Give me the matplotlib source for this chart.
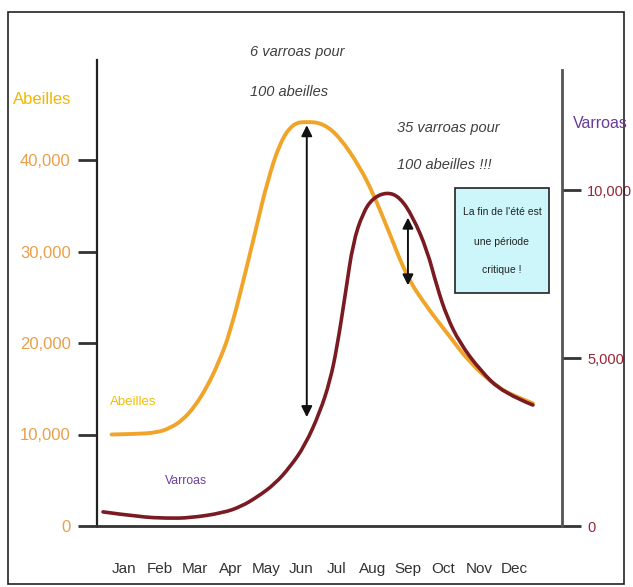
import matplotlib
matplotlib.use("Agg")
import matplotlib.pyplot as plt
from matplotlib.patches import Rectangle, FancyArrowPatch, PathPatch
from matplotlib.path import Path

# Population curves over the year (x in month index, Jan = 0)
mois = ["Jan", "Feb", "Mar", "Apr", "May", "Jun", "Jul", "Aug", "Sep", "Oct", "Nov", "Dec"]

abeilles_x = [-0.35, 0.31, 0.92, 1.30, 1.66, 2.00, 2.34, 2.66, 2.99, 3.46, 3.75, 4.03, 4.39,
              4.76, 5.15, 5.61, 6.08, 6.65, 7.01, 7.41, 7.97, 8.54, 9.10, 9.75, 10.51, 11.00, 11.52]
abeilles_y = [10000, 10050, 10200, 10700, 11600, 13100, 15200, 17800, 21100, 28300, 33000, 37500, 41900,
              44000, 44200, 44000, 42500, 39200, 36400, 32700, 27200, 23900, 21100, 17800, 15200, 14200, 13400]

varroas_x = [-0.59, 0.45, 1.20, 1.86, 2.79, 3.30, 3.75, 4.25, 4.68, 5.10, 5.52, 5.80, 6.00, 6.25,
             6.45, 6.73, 7.01, 7.41, 7.77, 8.14, 8.54, 8.82, 9.10, 9.46, 10.03, 10.68, 11.52]
varroas_y = [420, 270, 230, 240, 390, 580, 860, 1250, 1760, 2400, 3390, 4300, 5300, 7000,
             8420, 9320, 9760, 9940, 9790, 9200, 8210, 7110, 6220, 5450, 4640, 3960, 3600]

ticks_abeilles = [0, 10000, 20000, 30000, 40000]
ticks_varroas = [0, 5000, 10000]

# Double arrows highlighting the mite/bee ratio (left-axis units)
fleche_juin = (5.15, 43800, 11900)
fleche_sept = (8.0, 33700, 26300)

SANS = ["Liberation Sans", "DejaVu Sans"]
C_ABEILLE = "#F0A52A"
C_VARROA = "#7A1B24"

W, H = 633, 587
fig = plt.figure(figsize=(W / 100, H / 100), dpi=100)


def fx(x):
    return x / W


def fy(y):
    return 1 - y / H


def smooth_path(xs, ys):
    """Quadratic B-spline style path using the points as control points."""
    pts = list(zip(xs, ys))
    verts = [pts[0]]
    codes = [Path.MOVETO]
    for i in range(1, len(pts) - 1):
        mid = ((pts[i][0] + pts[i + 1][0]) / 2, (pts[i][1] + pts[i + 1][1]) / 2)
        if i == len(pts) - 2:
            mid = pts[-1]
        verts += [pts[i], mid]
        codes += [Path.CURVE3, Path.CURVE3]
    return Path(verts, codes)


# outer frame
fig.patches.append(Rectangle((fx(8), fy(584)), fx(624) - fx(8), fy(12) - fy(584),
                             transform=fig.transFigure, fill=False, ec="#222222", lw=1.2))

ax = fig.add_axes([fx(97), fy(526), fx(562) - fx(97), fy(60) - fy(526)])
ax.set_xlim(-0.76, 12.34)
ax.set_ylim(0, (526 - 60) / 9.15 * 1000)
ax2 = ax.twinx()
ax2.set_ylim(0, (526 - 60) / 33.6 * 1000)

for a in (ax, ax2):
    a.patch.set_visible(False)
    a.spines["top"].set_visible(False)
ax.spines["right"].set_visible(False)
ax2.spines["left"].set_visible(False)
ax2.spines["bottom"].set_visible(False)
ax.spines["left"].set_color("#222222")
ax.spines["left"].set_linewidth(1.6)
ax.spines["bottom"].set_color("#333333")
ax.spines["bottom"].set_linewidth(2.0)
ax2.spines["right"].set_color("#555555")
ax2.spines["right"].set_linewidth(2.0)
ax2.spines["right"].set_bounds(0, (526 - 70) / 33.6 * 1000)

ax.add_patch(PathPatch(smooth_path(abeilles_x, abeilles_y), fill=False, ec=C_ABEILLE,
                       lw=2.8, capstyle="round", joinstyle="round", zorder=3))
ax2.add_patch(PathPatch(smooth_path(varroas_x, varroas_y), fill=False, ec=C_VARROA,
                        lw=2.6, capstyle="round", joinstyle="round", zorder=4))

ax.set_yticks(ticks_abeilles)
ax.set_yticklabels([f"{v:,}" for v in ticks_abeilles], family=SANS, fontsize=12,
                   color="#E8A04A")
ax.tick_params(axis="y", direction="out", length=14, width=2, color="#333333", pad=5)

ax2.set_yticks(ticks_varroas)
ax2.set_yticklabels([f"{v:,}" for v in ticks_varroas], family=SANS, fontsize=10.5,
                    color="#9B2335")
ax2.tick_params(axis="y", direction="out", length=14, width=2, color="#333333", pad=4)

ax.set_xticks(range(len(mois)))
ax.set_xticklabels(mois, family=SANS, fontsize=11, color="#333333")
ax.tick_params(axis="x", length=0, pad=26)

for (x, top, bottom) in (fleche_juin, fleche_sept):
    ax.add_patch(FancyArrowPatch((x, bottom), (x, top), arrowstyle="<|-|>",
                                 mutation_scale=16, color="#111111", lw=1.4, zorder=5,
                                 shrinkA=0, shrinkB=0))

# axis titles
fig.text(fx(42), fy(100), "Abeilles", family=SANS, fontsize=12, color="#F2B800",
         ha="center", va="center")
fig.text(fx(600), fy(123), "Varroas", family=SANS, fontsize=11.5, color="#6A3A9A",
         ha="center", va="center")

# series labels
fig.text(fx(110), fy(402), "Abeilles", family=SANS, fontsize=9.5, color="#F2C000",
         ha="left", va="center")
fig.text(fx(165), fy(481), "Varroas", family=SANS, fontsize=8.8, color="#6B3FA0",
         ha="left", va="center")

# ratio annotations
for txt, x, y in (("6 varroas pour", 250, 52), ("100 abeilles", 250, 92),
                  ("35 varroas pour", 397, 128), ("100 abeilles !!!", 397, 165)):
    fig.text(fx(x), fy(y), txt, family=SANS, fontsize=10.5, style="italic",
             color="#404040", ha="left", va="center")

# info box
fig.patches.append(Rectangle((fx(455), fy(293)), fx(549) - fx(455), fy(188) - fy(293),
                             transform=fig.transFigure, fc="#CCF6FA", ec="#222222",
                             lw=1.2, zorder=6))
for txt, y in (("La fin de l'été est", 212), ("une période", 242), ("critique !", 270)):
    fig.text(fx(502), fy(y), txt, family=SANS, fontsize=7.5, color="#222222",
             ha="center", va="center", zorder=7)

fig.savefig("out.png", dpi=100)
